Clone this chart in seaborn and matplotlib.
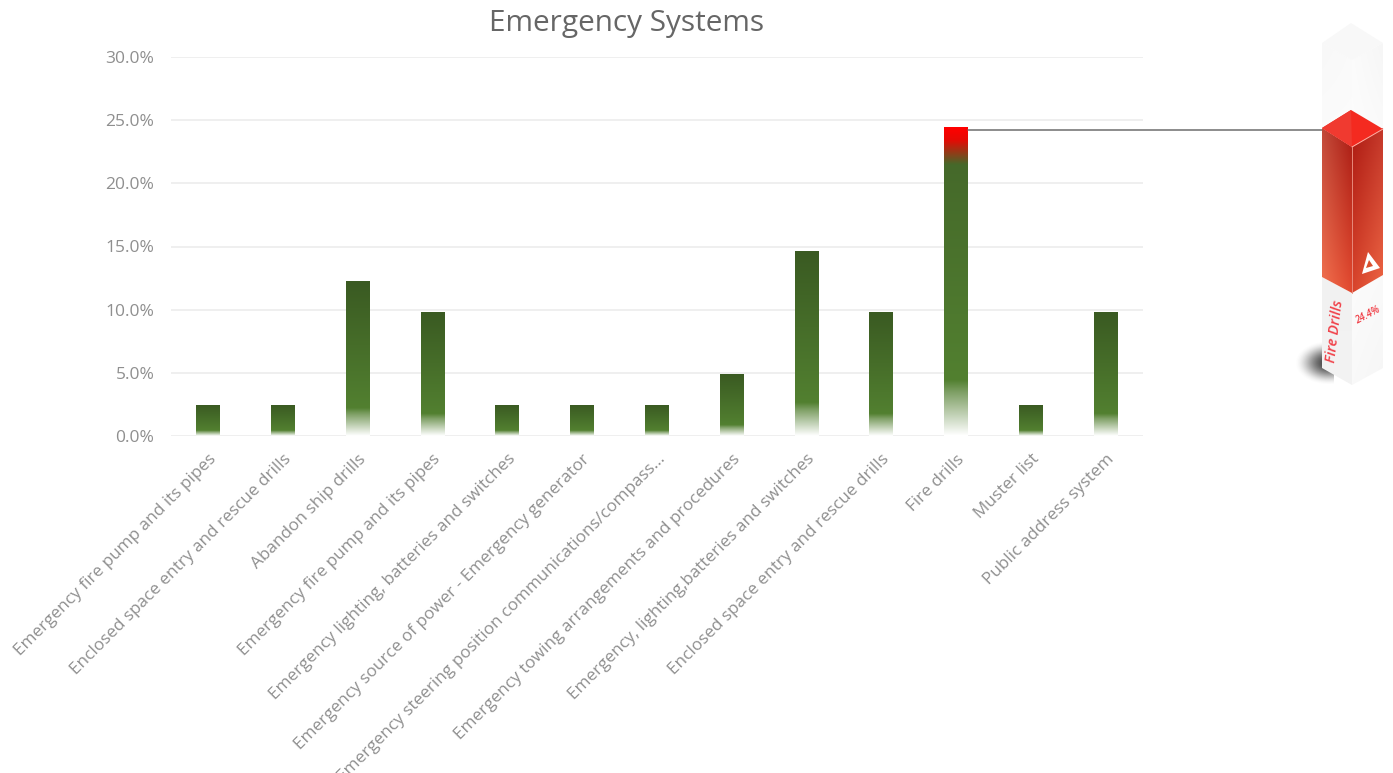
import numpy as np
import pandas as pd
import matplotlib
matplotlib.use("Agg")
import matplotlib.pyplot as plt
from matplotlib.colors import LinearSegmentedColormap, to_rgb
from matplotlib.patches import Polygon
from matplotlib.ticker import FuncFormatter
import seaborn as sns

categories = [
    "Emergency fire pump and its pipes",
    "Enclosed space entry and rescue drills",
    "Abandon ship drills",
    "Emergency fire pump and its pipes ",
    "Emergency lighting, batteries and switches",
    "Emergency source of power - Emergency generator",
    "Emergency steering position communications/compass...",
    "Emergency towing arrangements and procedures",
    "Emergency, lighting,batteries and switches",
    "Enclosed space entry and rescue drills ",
    "Fire drills",
    "Muster list",
    "Public address system",
]
shares = [2.44, 2.44, 12.2, 9.76, 2.44, 2.44, 2.44, 4.88, 14.6, 9.76, 24.4, 2.44, 9.76]
highlighted = "Fire drills"
highlight_value = "24.4%"
highlight_name = "Fire Drills"

W, H = 1393, 773
GREY = "#8f8f8f"

sns.set_theme(style="white")
plt.rcParams["font.family"] = ["Open Sans", "DejaVu Sans"]

fig = plt.figure(figsize=(W / 100, H / 100), dpi=100, facecolor="white")
ax = fig.add_axes([171 / W, 1 - 436 / H, (1143 - 171) / W, (436 - 57) / H])

frame = pd.DataFrame({"category": categories, "share": shares})
sns.barplot(data=frame, x="category", y="share", width=0.32, color="#4a7a2c", ax=ax)

ax.set_xlim(-0.5, len(categories) - 0.5)
ax.set_ylim(0, 30)
ax.set_yticks(np.arange(0, 31, 5))
ax.yaxis.set_major_formatter(FuncFormatter(lambda v, _: f"{v:.1f}%"))
ax.set_xlabel("")
ax.set_ylabel("")
ax.grid(axis="y", color="#ececec", linewidth=1.2)
ax.set_axisbelow(True)
sns.despine(ax=ax, left=True, bottom=True, top=True, right=True)
ax.tick_params(axis="y", length=0, pad=12, labelsize=12.5, labelcolor=GREY)
ax.tick_params(axis="x", length=0, pad=11)
ax.set_xticks(range(len(categories)))
ax.set_xticklabels(
    [c.strip() for c in categories], rotation=45, ha="right",
    rotation_mode="anchor", fontsize=12.3, color=GREY,
)

green_ramp = LinearSegmentedColormap.from_list(
    "green_ramp",
    [(0, "#3a5a22"), (0.82, "#528030"), (0.86, "#7fa066"), (1, "#ffffff")],
)
red_ramp = LinearSegmentedColormap.from_list(
    "red_ramp",
    [(0, "#ff0000"), (0.04, "#e60a04"), (0.12, "#45692a"),
     (0.82, "#528030"), (0.86, "#7fa066"), (1, "#ffffff")],
)
ramp = np.linspace(0, 1, 256).reshape(-1, 1)
for patch, name in zip(ax.patches, categories):
    x0, y0 = patch.get_x(), patch.get_y()
    w, h = patch.get_width(), patch.get_height()
    patch.set_visible(False)
    cmap = red_ramp if name == highlighted else green_ramp
    ax.imshow(ramp, cmap=cmap, extent=(x0, x0 + w, y0, y0 + h), origin="upper",
              aspect="auto", vmin=0, vmax=1, zorder=3, interpolation="bilinear")
ax.set_xlim(-0.5, len(categories) - 0.5)
ax.set_ylim(0, 30)

fig.text(627 / W, 1 - 24 / H, "Emergency Systems", ha="center", va="center",
         fontsize=21.4, color="#666666")

# Overlay in pixel units for the isometric callout column
deco = fig.add_axes([0, 0, 1, 1], facecolor="none", zorder=5)
deco.set_xlim(0, W)
deco.set_ylim(H, 0)
deco.axis("off")


def shaded_face(points, corner_colors, zorder=2):
    """Fill a polygon with a bilinear blend of four corner colours (TL, TR, BL, BR)."""
    xs, ys = zip(*points)
    box = (min(xs), max(xs), max(ys), min(ys))
    tl, tr, bl, br = [np.array(to_rgb(c)) for c in corner_colors]
    u = np.linspace(0, 1, 64)[None, :, None]
    v = np.linspace(0, 1, 128)[:, None, None]
    img = (1 - v) * ((1 - u) * tl + u * tr) + v * ((1 - u) * bl + u * br)
    im = deco.imshow(img, extent=box, aspect="auto", zorder=zorder,
                     interpolation="bilinear")
    clip = Polygon(points, closed=True, transform=deco.transData)
    im.set_clip_path(clip)


# Soft ground shadow behind the column
gx, gy = np.meshgrid(np.linspace(-1, 1, 120), np.linspace(-1, 1, 80))
falloff = np.clip(1 - (((gx - 0.75) / 1.75) ** 2 + ((gy + 0.05) / 0.95) ** 2), 0, 1) ** 2.2
shadow = np.zeros(falloff.shape + (4,))
shadow[..., :3] = 0.22
shadow[..., 3] = falloff * 0.95
deco.imshow(shadow, extent=(1294, 1334, 388, 340), aspect="auto", zorder=1)

# Pale upper and lower shell of the column
shaded_face([(1322, 43), (1352, 60), (1352, 150), (1322, 130)],
            ["#f8f8f8", "#fafafa", "#fcfcfc", "#fcfcfc"])
shaded_face([(1352, 60), (1383, 43), (1383, 130), (1352, 150)],
            ["#fbfbfb", "#f6f6f6", "#fdfdfd", "#fbfbfb"])
deco.add_patch(Polygon([(1351, 23), (1383, 43), (1352, 60), (1322, 43)],
                       facecolor="#f8f8f8", edgecolor="none", zorder=2))
shaded_face([(1322, 277), (1352, 293), (1352, 385), (1322, 368)],
            ["#f1f1f1", "#f1f1f1", "#f3f3f3", "#f3f3f3"], zorder=2)
shaded_face([(1352, 293), (1383, 275), (1383, 368), (1352, 385)],
            ["#fcfcfc", "#fafafa", "#f9f9f9", "#f6f6f6"], zorder=2)

# Red filled section
shaded_face([(1322, 128), (1352, 147), (1352, 293), (1322, 277)],
            ["#c24a3a", "#a81c14", "#f2714f", "#e2492f"], zorder=3)
shaded_face([(1352, 147), (1383, 128), (1383, 275), (1352, 293)],
            ["#ac1a12", "#c4382a", "#d8442c", "#ee6644"], zorder=3)
deco.add_patch(Polygon([(1351, 110), (1383, 129), (1352, 147), (1322, 128)],
                       facecolor="#f42a20", edgecolor="none", zorder=4))
deco.add_patch(Polygon([(1351, 110), (1352, 147), (1322, 128)],
                       facecolor="#f03a30", edgecolor="none", zorder=4))
deco.plot([1352, 1352], [147, 293], color="#e88a7c", lw=0.7, zorder=4)
deco.plot([1352, 1383], [147, 129], color="#ffb0a4", lw=0.7, zorder=5)

# Small white triangle badge with a red notch
deco.add_patch(Polygon([(1368, 252), (1380, 268), (1362, 274)], closed=True,
                       facecolor="white", edgecolor="none", zorder=5))
deco.add_patch(Polygon([(1369, 260), (1373, 266), (1366, 268)], closed=True,
                       facecolor="#d9502f", edgecolor="none", zorder=6))

deco.text(1335, 331, highlight_name, rotation=83, ha="center", va="center",
          fontsize=10.5, color="#f04048", fontweight="semibold", style="italic", zorder=6)
deco.text(1368, 316, highlight_value, rotation=28, ha="center", va="center",
          fontsize=7, color="#f04048", fontweight="semibold", style="italic", zorder=6)

# Leader line from the highlighted bar to the column
deco.plot([968, 1323], [130, 130], color="#6e6e6e", lw=1.1, zorder=2)
deco.set_xlim(0, W)
deco.set_ylim(H, 0)

fig.savefig("out.png", dpi=100, facecolor="white")
